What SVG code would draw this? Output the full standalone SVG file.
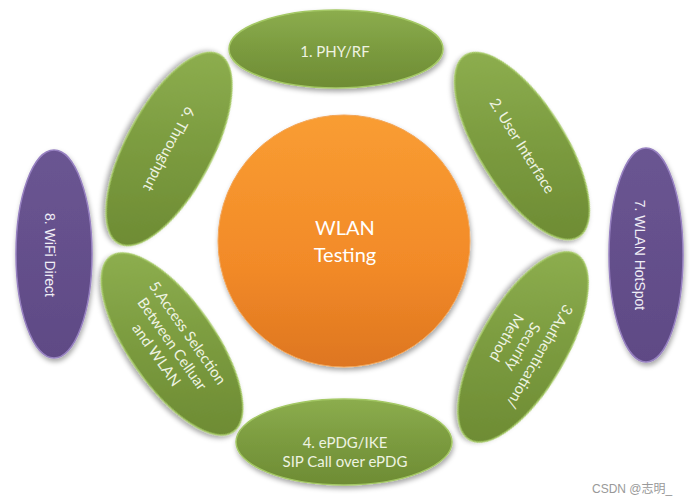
<svg xmlns="http://www.w3.org/2000/svg" width="692" height="501" viewBox="0 0 692 501">
<defs>
<linearGradient id="gGreen" x1="0" y1="0" x2="0" y2="1">
<stop offset="0" stop-color="#8cad4e"/>
<stop offset="0.5" stop-color="#7b9b3f"/>
<stop offset="1" stop-color="#6e8c34"/>
</linearGradient>
<linearGradient id="gG2" gradientUnits="userSpaceOnUse" x1="-79" y1="-49" x2="79" y2="49" href="#gGreen"/>
<linearGradient id="gG3" gradientUnits="userSpaceOnUse" x1="-82" y1="47" x2="82" y2="-47" href="#gGreen"/>
<linearGradient id="gG5" gradientUnits="userSpaceOnUse" x1="-73" y1="-51" x2="73" y2="51" href="#gGreen"/>
<linearGradient id="gG6" gradientUnits="userSpaceOnUse" x1="-85" y1="45" x2="85" y2="-45" href="#gGreen"/>
<linearGradient id="gOrange" x1="0" y1="0" x2="0" y2="1">
<stop offset="0" stop-color="#f99d32"/>
<stop offset="0.6" stop-color="#f28a28"/>
<stop offset="1" stop-color="#de7620"/>
</linearGradient>
<linearGradient id="gPurple" x1="0" y1="0" x2="0" y2="1">
<stop offset="0" stop-color="#6a5592"/>
<stop offset="1" stop-color="#5f4a85"/>
</linearGradient>
<filter id="sh" x="-20%" y="-20%" width="140%" height="140%">
<feDropShadow dx="1" dy="3" stdDeviation="2.5" flood-color="#000" flood-opacity="0.35"/>
</filter>
</defs>
<style>
.green{fill:url(#gGreen);stroke:#a4c865;stroke-width:1.5;filter:url(#sh)}
.orange{fill:url(#gOrange);stroke:#f2a65a;stroke-width:1;filter:url(#sh)}
.purple{fill:url(#gPurple);stroke:#9680c0;stroke-width:1.5;filter:url(#sh)}
.tg{font-family:Lato,"Open Sans",sans-serif;font-size:15px;fill:#eef3e2;text-anchor:middle}
.tp{font-family:"Liberation Sans",Arial,sans-serif;font-size:14px;fill:#f0eef6;text-anchor:middle}
.tc{font-family:Lato,"Open Sans",sans-serif;font-size:20px;fill:#ffffff;text-anchor:middle}
.wm{font-family:"Liberation Sans","Noto Sans CJK SC",sans-serif;font-size:12px;fill:#999999}
</style>
<g id="connectors"></g>
<g id="center">
<circle class="orange" cx="344" cy="241" r="126"/>
<text class="tc" x="345" y="235">WLAN</text>
<text class="tc" x="345" y="262">Testing</text>
</g>
<g id="n1">
<ellipse class="green" cx="336" cy="49" rx="107" ry="39"/>
<text class="tg" x="335" y="57">1. PHY/RF</text>
</g>
<g id="n2" transform="translate(522,146) rotate(58)">
<ellipse class="green" style="fill:url(#gG2)" cx="0" cy="0" rx="107" ry="43"/>
<text class="tg" x="0" y="5">2. User Interface</text>
</g>
<g id="n3" transform="translate(523,347) rotate(120)">
<ellipse class="green" style="fill:url(#gG3)" cx="0" cy="0" rx="107" ry="43"/>
<text class="tg" x="0" y="-14">3.Authentication/</text>
<text class="tg" x="0" y="5">Security</text>
<text class="tg" x="0" y="24">Method</text>
</g>
<g id="n4">
<ellipse class="green" cx="344" cy="442" rx="108" ry="43"/>
<text class="tg" x="345" y="448">4. ePDG/IKE</text>
<text class="tg" x="345" y="467">SIP Call over ePDG</text>
</g>
<g id="n5" transform="translate(172,344) rotate(55)">
<ellipse class="green" style="fill:url(#gG5)" cx="0" cy="0" rx="107" ry="43"/>
<text class="tg" x="0" y="-14">5.Access Selection</text>
<text class="tg" x="0" y="5">Between Celluar</text>
<text class="tg" x="0" y="24">and WLAN</text>
</g>
<g id="n6" transform="translate(169,149) rotate(118)">
<ellipse class="green" style="fill:url(#gG6)" cx="0" cy="0" rx="107" ry="43"/>
<text class="tg" x="0" y="5">6. Throughput</text>
</g>
<g id="n7">
<ellipse class="purple" cx="646" cy="255" rx="37" ry="107"/>
<text class="tp" transform="translate(640,255) rotate(90)" x="0" y="5">7. WLAN HotSpot</text>
</g>
<g id="n8">
<ellipse class="purple" cx="54" cy="254" rx="38" ry="104"/>
<text class="tp" transform="translate(50,255) rotate(90)" x="0" y="5">8. WiFi Direct</text>
</g>
<text class="wm" x="592" y="493">CSDN @志明_</text>
</svg>
